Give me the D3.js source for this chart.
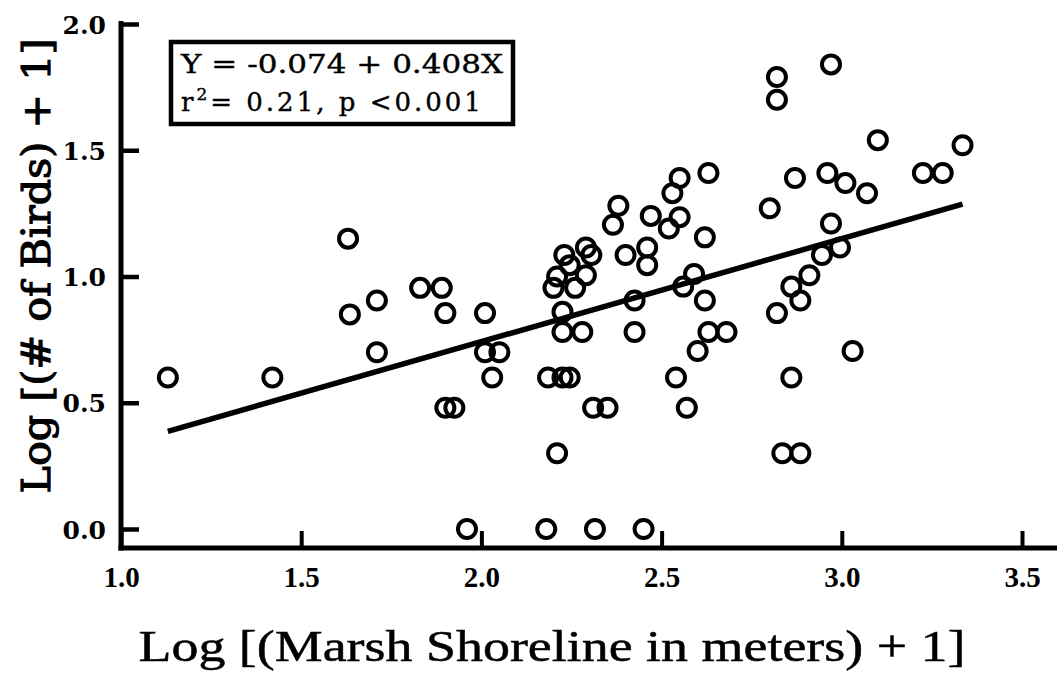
<!DOCTYPE html>
<html>
<head>
<meta charset="utf-8">
<script src="https://cdn.jsdelivr.net/npm/d3@7"></script>
<style>
  body { margin: 0; background: #fff; }
  svg { display: block; }
</style>
</head>
<body>
<div id="main"></div>
<script>
// log shoreline (x) and log birds (y)
const shoreline = [
  1.13, 1.42, 1.63, 1.635, 1.71, 1.71, 1.83, 1.89, 1.90, 1.90, 1.925,
  1.96, 2.01, 2.01, 2.05, 2.03, 2.18, 2.185, 2.21, 2.225, 2.245,
  2.20, 2.21, 2.23, 2.245, 2.29, 2.305, 2.26, 2.29, 2.225, 2.225, 2.28,
  2.31, 2.35, 2.315, 2.365, 2.38, 2.40, 2.425, 2.425, 2.45, 2.46, 2.46,
  2.47, 2.52, 2.53, 2.55, 2.55, 2.54, 2.56, 2.57, 2.59, 2.60, 2.62, 2.62,
  2.63, 2.68, 2.63, 2.80, 2.82, 2.82, 2.82, 2.835, 2.86, 2.86, 2.87,
  2.885, 2.885, 2.91, 2.945, 2.96, 2.97, 2.97, 2.995, 3.01, 3.03, 3.07,
  3.10, 3.225, 3.28, 3.335
];
const birds = [
  0.60, 0.60, 1.15, 0.85, 0.905, 0.70, 0.955, 0.955, 0.855, 0.48, 0.48,
  0.0, 0.855, 0.70, 0.70, 0.60, 0.0, 0.60, 0.30, 0.60, 0.60,
  0.955, 1.0, 1.085, 1.045, 1.115, 1.085, 0.955, 1.005, 0.86, 0.78, 0.78,
  0.48, 0.48, 0.0, 1.205, 1.28, 1.085, 0.905, 0.78, 0.0, 1.115, 1.045,
  1.24, 1.19, 1.33, 1.39, 1.235, 0.60, 0.96, 0.48, 1.01, 0.705, 0.905, 1.155,
  0.78, 0.78, 1.41, 1.27, 1.79, 1.70, 0.855, 0.30, 0.96, 0.60, 1.39,
  0.905, 0.30, 1.005, 1.085, 1.41, 1.21, 1.84, 1.115, 1.37, 0.705, 1.33,
  1.54, 1.41, 1.41, 1.52
];
const xTicks = [1.0, 1.5, 2.0, 2.5, 3.0, 3.5];
const yTicks = [0.0, 0.5, 1.0, 1.5, 2.0];
const fitIntercept = -0.074;
const fitSlope = 0.408;
const fitFrom = 1.13, fitTo = 3.335;

const W = 1057, H = 673;

const svg = d3.select('#main').append('svg')
    .attr('width', W)
    .attr('height', H);

const x = d3.scaleLinear().domain([1, 3.5]).range([121, 1022]);
const y = d3.scaleLinear().domain([0, 2]).range([529, 24]);
const axisY = 548;

// axis lines
svg.append('line')
    .attr('x1', x(1)).attr('x2', x(1))
    .attr('y1', y(2) - 3).attr('y2', axisY + 2.5)
    .attr('stroke', '#000').attr('stroke-width', 5);
svg.append('line')
    .attr('x1', x(1) - 2.5).attr('x2', W)
    .attr('y1', axisY).attr('y2', axisY)
    .attr('stroke', '#000').attr('stroke-width', 5);

// y axis ticks + labels
const gy = svg.append('g')
    .attr('transform', `translate(${x(1)},0)`)
    .call(d3.axisLeft(y).tickValues(yTicks).tickFormat(d3.format('.1f'))
        .tickSize(-18).tickPadding(15));
gy.select('.domain').remove();
gy.selectAll('.tick line').attr('stroke', '#000').attr('stroke-width', 4.5);
gy.selectAll('.tick text')
    .attr('font-family', '"DejaVu Serif", serif')
    .attr('font-weight', 'bold')
    .attr('font-size', 25)
    .attr('fill', '#000')
    .attr('dy', '0.36em');

// x axis ticks + labels
const gx = svg.append('g')
    .attr('transform', `translate(0,${axisY})`)
    .call(d3.axisBottom(x).tickValues(xTicks).tickFormat(d3.format('.1f'))
        .tickSize(-17).tickPadding(18));
gx.select('.domain').remove();
gx.selectAll('.tick line').attr('stroke', '#000').attr('stroke-width', 4);
gx.selectAll('.tick text')
    .attr('font-family', '"Liberation Serif", serif')
    .attr('font-weight', 'bold')
    .attr('font-size', 29)
    .attr('fill', '#000');

// regression line
svg.append('line')
    .attr('x1', x(fitFrom)).attr('y1', y(fitIntercept + fitSlope * fitFrom))
    .attr('x2', x(fitTo)).attr('y2', y(fitIntercept + fitSlope * fitTo))
    .attr('stroke', '#000')
    .attr('stroke-width', 5.5);

// points
const pts = shoreline.map((v, i) => ({ sx: v, by: birds[i] }));
svg.append('g').selectAll('circle')
    .data(pts)
    .enter()
    .append('circle')
    .attr('cx', d => x(d.sx))
    .attr('cy', d => y(d.by))
    .attr('r', 9)
    .attr('fill', 'none')
    .attr('stroke', '#000')
    .attr('stroke-width', 4);

// equation box
svg.append('rect')
    .attr('x', 171).attr('y', 42)
    .attr('width', 342).attr('height', 82)
    .attr('fill', '#fff')
    .attr('stroke', '#000')
    .attr('stroke-width', 4.5);

const eqFont = '"DejaVu Serif", serif';
svg.append('text')
    .attr('x', 181).attr('y', 73)
    .attr('font-family', eqFont)
    .attr('font-size', 26)
    .attr('stroke', '#000').attr('stroke-width', 0.4)
    .attr('textLength', 322)
    .attr('lengthAdjust', 'spacingAndGlyphs')
    .text('Y  = -0.074 + 0.408X');

const t2 = svg.append('text')
    .attr('x', 181).attr('y', 111)
    .attr('font-family', eqFont)
    .attr('font-size', 26)
    .attr('stroke', '#000').attr('stroke-width', 0.4)
    .attr('letter-spacing', 3);
t2.append('tspan').text('r');
t2.append('tspan').attr('font-size', 17).attr('dy', -11).text('2');
t2.append('tspan').attr('dy', 11).text('= 0.21, p <0.001');

// axis titles
svg.append('text')
    .attr('x', 552).attr('y', 661)
    .attr('text-anchor', 'middle')
    .attr('font-family', '"Liberation Serif", serif')
    .attr('font-size', 45)
    .attr('stroke', '#000').attr('stroke-width', 0.5)
    .attr('textLength', 827)
    .attr('lengthAdjust', 'spacingAndGlyphs')
    .text('Log [(Marsh Shoreline in meters) + 1]');

svg.append('text')
    .attr('transform', 'translate(50,266) rotate(-90)')
    .attr('text-anchor', 'middle')
    .attr('font-family', '"DejaVu Serif", serif')
    .attr('font-size', 40)
    .attr('stroke', '#000').attr('stroke-width', 1.2)
    .attr('textLength', 455)
    .attr('lengthAdjust', 'spacingAndGlyphs')
    .text('Log [(# of Birds) + 1]');
</script>
</body>
</html>
